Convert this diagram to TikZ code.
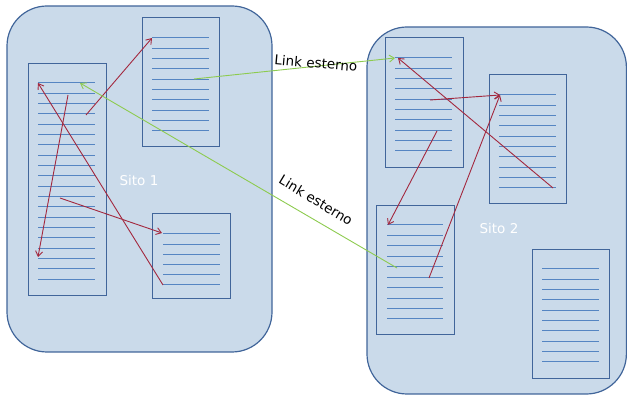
\documentclass[tikz,border=0pt]{standalone}
\usepackage{fontspec}
\setmainfont{DejaVu Sans}
\usetikzlibrary{arrows.meta}
\definecolor{sitefill}{HTML}{CADAEA}
\definecolor{siteborder}{HTML}{41659A}
\definecolor{docline}{HTML}{5585C2}
\definecolor{redarrow}{HTML}{A3283E}
\definecolor{greenarrow}{HTML}{8DCB4F}
\tikzset{
  site/.style={draw=siteborder, fill=sitefill, line width=1.2pt, rounded corners=40pt},
  docbox/.style={draw=siteborder, fill=sitefill, line width=1.3pt, anchor=north west, inner sep=0pt},
  dline/.style={draw=docline, line width=1pt},
  redlink/.style={draw=redarrow, line width=0.9pt, -{Straight Barb[length=5pt,width=7pt]}},
  greenlink/.style={draw=greenarrow, line width=0.9pt, -{Straight Barb[length=5pt,width=7pt]}},
  sitelabel/.style={text=white, font=\fontsize{13.5}{15}\selectfont},
  linklabel/.style={text=black, font=\fontsize{13.5}{15}\selectfont, inner sep=0pt}
}
\newcommand{\doclines}[6]{% x1, x2, y0, step, n-1
  \foreach \i in {0,...,#5} {\draw[dline] (#1,{#3+\i*#4}) -- (#2,{#3+\i*#4});}
}
\begin{document}
\begin{tikzpicture}[x=1pt,y=-1pt]
\useasboundingbox (0,0) rectangle (627,395);
% sites
\draw[site] (7,6) rectangle (272,352);
\node[sitelabel] (s1) at (139,180) {Sito 1};
\begin{scope}
\clip (0,0) rectangle (627,395);
\draw[site] (367,27) rectangle (626.4,394);
\end{scope}
\node[sitelabel] (s2) at (499,228) {Sito 2};
% documents site 1
\node[docbox, minimum width=78pt, minimum height=232pt] (A) at (28,63) {};
\doclines{38}{95}{83}{10.32}{19}{}
\node[docbox, minimum width=77pt, minimum height=129pt] (B) at (142,17) {};
\doclines{152}{209}{38}{10.33}{9}{}
\node[docbox, minimum width=78pt, minimum height=85pt] (C) at (152,213) {};
\doclines{163}{220}{234}{10.2}{5}{}
% documents site 2
\node[docbox, minimum width=78pt, minimum height=130pt] (D) at (385,37) {};
\doclines{395}{452}{58}{10.33}{9}{}
\node[docbox, minimum width=77pt, minimum height=129pt] (E) at (489,74) {};
\doclines{499}{556}{95}{10.33}{9}{}
\node[docbox, minimum width=78pt, minimum height=129pt] (F) at (376,205) {};
\doclines{387}{443}{225}{10.44}{9}{}
\node[docbox, minimum width=77pt, minimum height=129pt] (G) at (532,249) {};
\doclines{542}{599}{269}{10.33}{9}{}
% link endpoints
\coordinate (a1) at (86,115);
\coordinate (a2) at (68,95);
\coordinate (a3) at (38,257);
\coordinate (a4) at (60,198);
\coordinate (a5) at (38,83);
\coordinate (a6) at (80,83);
\coordinate (b1) at (152,38);
\coordinate (b2) at (194,79);
\coordinate (c1) at (162,233);
\coordinate (c2) at (163,285);
\coordinate (d1) at (395,58);
\coordinate (d2) at (430,100);
\coordinate (d3) at (437,131);
\coordinate (d4) at (398,58);
\coordinate (e1) at (500,95);
\coordinate (e2) at (553,188);
\coordinate (f1) at (388,225);
\coordinate (f2) at (429,278);
\coordinate (f3) at (397,268);
% red links
\draw[redlink] (a1) -- (b1);
\draw[redlink] (a2) -- (a3);
\draw[redlink] (a4) -- (c1);
\draw[redlink] (c2) -- (a5);
\draw[redlink] (d2) -- (e1);
\draw[redlink] (e2) -- (d4);
\draw[redlink] (d3) -- (f1);
\draw[redlink] (f2) -- (e1);
% green links
\draw[greenlink] (b2) -- (d1);
\draw[greenlink] (f3) -- (a6);
\node[linklabel, rotate=-5] (l1) at (316,63) {Link esterno};
\node[linklabel, rotate=-31] (l2) at (316,200) {Link esterno};
\end{tikzpicture}
\end{document}
